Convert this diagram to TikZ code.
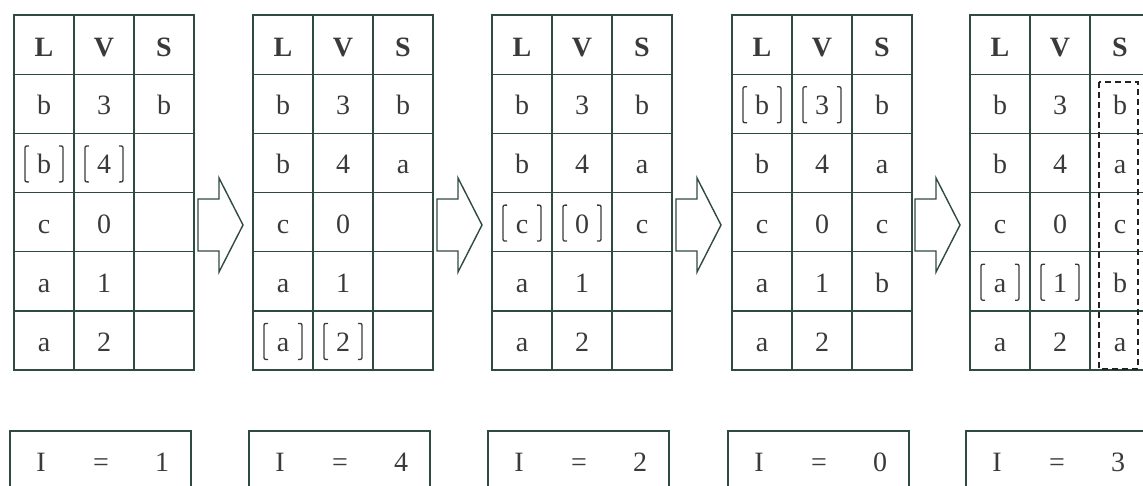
\documentclass[tikz,border=0pt]{standalone}
\usepackage{fontspec}
\setmainfont{Liberation Serif}
\usetikzlibrary{calc}
\definecolor{ln}{HTML}{2F4A42}
\definecolor{tx}{HTML}{3A3A3A}
\definecolor{dsh}{HTML}{222222}
\newcommand\tabrow[6]{% table k, left x, row i, L, V, S
  \pgfmathsetmacro\yb{15+59.17*(#3+0.5)+11}
  \node[cell] (t#1-r#3-L) at (#2+30,\yb) {#4};
  \node[cell] (t#1-r#3-V) at (#2+90,\yb) {#5};
  \node[cell] (t#1-r#3-S) at (#2+150,\yb) {#6};
}
\newcommand\brkt[3]{% left x of table, row i, column index 0/1
  \pgfmathsetmacro\cx{#1+30+60*#3}
  \pgfmathsetmacro\cy{15+59.17*(#2+0.5)+1}
  \draw[brk] (\cx-15,\cy-18) .. controls (\cx-19,\cy-18) .. (\cx-19,\cy-14) -- (\cx-19,\cy+14) .. controls (\cx-19,\cy+18) .. (\cx-15,\cy+18);
  \draw[brk] (\cx+15,\cy-18) .. controls (\cx+19,\cy-18) .. (\cx+19,\cy-14) -- (\cx+19,\cy+14) .. controls (\cx+19,\cy+18) .. (\cx+15,\cy+18);
}
\begin{document}
\begin{tikzpicture}[x=1pt,y=-1pt,
  grid/.style={draw=ln, line width=1.3pt},
  cell/.style={text=tx, font=\fontsize{28}{32}\selectfont, inner sep=0pt, anchor=base},
  hdr/.style={cell, font=\fontsize{28}{32}\selectfont\bfseries},
  arrowshape/.style={draw=ln, line width=1.4pt, line join=miter},
  brk/.style={draw=tx, line width=1.3pt},
  dashbox/.style={draw=dsh, line width=1.8pt, dash pattern=on 6pt off 4pt},
  ibox/.style={draw=ln, line width=1.3pt}]
\useasboundingbox (0,0) rectangle (1143,485);
\clip (0,0) rectangle (1143,485);
% tables
\foreach \k/\x in {1/14,2/253,3/492,4/732,5/970} {
  \draw[grid] (\x,15) rectangle ++(180,355);
  \foreach \i in {1,...,5} \draw[grid] (\x,15+59.17*\i) -- ++(180,0);
  \foreach \j in {1,2} \draw[grid] (\x+60*\j,15) -- ++(0,355);
  \node[hdr] (t\k-hL) at (\x+30,56.5) {L};
  \node[hdr] (t\k-hV) at (\x+90,56.5) {V};
  \node[hdr] (t\k-hS) at (\x+150,56.5) {S};
}
% table 1
\tabrow{1}{14}{1}{b}{3}{b}
\tabrow{1}{14}{2}{b}{4}{}
\tabrow{1}{14}{3}{c}{0}{}
\tabrow{1}{14}{4}{a}{1}{}
\tabrow{1}{14}{5}{a}{2}{}
\brkt{14}{2}{0}\brkt{14}{2}{1}
% table 2
\tabrow{2}{253}{1}{b}{3}{b}
\tabrow{2}{253}{2}{b}{4}{a}
\tabrow{2}{253}{3}{c}{0}{}
\tabrow{2}{253}{4}{a}{1}{}
\tabrow{2}{253}{5}{a}{2}{}
\brkt{253}{5}{0}\brkt{253}{5}{1}
% table 3
\tabrow{3}{492}{1}{b}{3}{b}
\tabrow{3}{492}{2}{b}{4}{a}
\tabrow{3}{492}{3}{c}{0}{c}
\tabrow{3}{492}{4}{a}{1}{}
\tabrow{3}{492}{5}{a}{2}{}
\brkt{492}{3}{0}\brkt{492}{3}{1}
% table 4
\tabrow{4}{732}{1}{b}{3}{b}
\tabrow{4}{732}{2}{b}{4}{a}
\tabrow{4}{732}{3}{c}{0}{c}
\tabrow{4}{732}{4}{a}{1}{b}
\tabrow{4}{732}{5}{a}{2}{}
\brkt{732}{1}{0}\brkt{732}{1}{1}
% table 5
\tabrow{5}{970}{1}{b}{3}{b}
\tabrow{5}{970}{2}{b}{4}{a}
\tabrow{5}{970}{3}{c}{0}{c}
\tabrow{5}{970}{4}{a}{1}{b}
\tabrow{5}{970}{5}{a}{2}{a}
\brkt{970}{4}{0}\brkt{970}{4}{1}
\draw[dashbox] (1099,82) rectangle (1138,369);
% arrows
\foreach \r in {194,433,672,911} {
  \draw[arrowshape] (\r+4,199) -- (\r+25,199) -- (\r+25,178) -- (\r+49,225) -- (\r+25,272) -- (\r+25,251) -- (\r+4,251) -- cycle;
}
% bottom boxes
\foreach \k/\x/\v in {1/14/1,2/253/4,3/492/2,4/732/0,5/970/3} {
  \draw[ibox] (\x-4,495) -- (\x-4,431) -- (\x+177,431) -- (\x+177,495);
  \node[cell] (i\k-I) at (\x+27,471) {I};
  \node[cell] (i\k-eq) at (\x+87,471) {=};
  \node[cell] (i\k-v) at (\x+148,471) {\v};
}
\end{tikzpicture}
\end{document}
